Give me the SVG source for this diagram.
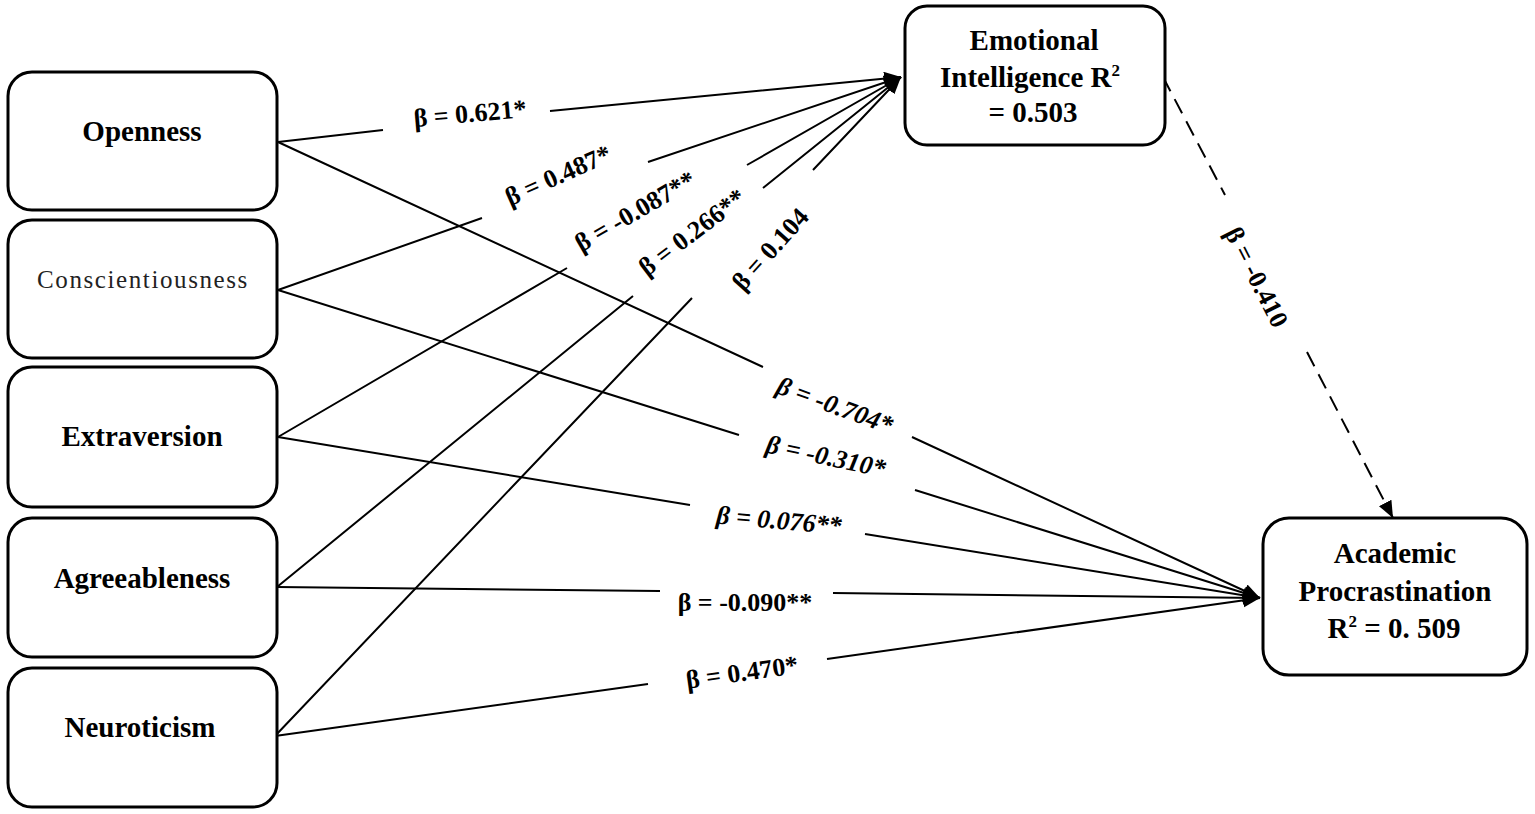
<svg xmlns="http://www.w3.org/2000/svg" width="1535" height="814" viewBox="0 0 1535 814">
<defs>
<marker id="arr" markerUnits="userSpaceOnUse" markerWidth="20" markerHeight="16" refX="17" refY="7" orient="auto">
<path d="M0,0 L17,7 L0,14 z" fill="#000"/>
</marker>
<style>
.box{fill:#fff;stroke:#000;stroke-width:3}
.nt{font-family:"Liberation Serif","Times New Roman",serif;font-weight:bold;font-size:29px;fill:#000;text-anchor:middle}
.nr{font-family:"Liberation Serif","Times New Roman",serif;font-weight:normal;font-size:25px;letter-spacing:1.6px;fill:#222;text-anchor:middle}
.lb{font-family:"Liberation Serif","Times New Roman",serif;font-weight:bold;font-size:26px;fill:#000;text-anchor:middle}
.it{font-style:italic}
.ln{fill:none;stroke:#000;stroke-width:2;marker-end:url(#arr)}
.dash{stroke-dasharray:16 9}
</style>
</defs>
<rect width="1535" height="814" fill="#fff"/>

<g id="connectors">
<path class="ln" d="M278,142 L383,130 M550,111 L901,77"/>
<path class="ln" d="M278,290 L482,218 M648,162 L901,77"/>
<path class="ln" d="M278,437 L567,268 M747,165 L901,77"/>
<path class="ln" d="M277,587 L633,296 M763,188 L901,77"/>
<path class="ln" d="M275,736 L692,298 M813,170 L901,77"/>
<path class="ln" d="M278,142 L763,367 M912,437 L1260,598"/>
<path class="ln" d="M278,290 L739,435 M915,490 L1260,598"/>
<path class="ln" d="M278,437 L690,505 M865,534 L1260,598"/>
<path class="ln" d="M277,587 L660,591 M833,593 L1260,598"/>
<path class="ln" d="M275,736 L648,684 M827,659 L1260,598"/>
<path class="ln dash" d="M1163,77 L1225,195 M1307,352 L1393,518"/>
</g>

<g id="labels">
<text class="lb" transform="translate(470,113) rotate(-5)" y="9">β = 0.621*</text>
<text class="lb" transform="translate(558,175) rotate(-24)" y="9">β = 0.487*</text>
<text class="lb" transform="translate(635,211) rotate(-30)" y="9">β = -0.087**</text>
<text class="lb" transform="translate(692,232) rotate(-37)" y="9">β = 0.266**</text>
<text class="lb" transform="translate(770,249) rotate(-48)" y="9">β = 0.104</text>
<text class="lb it" transform="translate(835,405) rotate(20)" y="9">β = -0.704*</text>
<text class="lb it" transform="translate(826,456) rotate(12)" y="9">β = -0.310*</text>
<text class="lb it" transform="translate(779,520) rotate(5)" y="9">β = 0.076**</text>
<text class="lb" transform="translate(745,602) rotate(0)" y="9">β = -0.090**</text>
<text class="lb" transform="translate(742,672) rotate(-8)" y="9">β = 0.470*</text>
<text class="lb" transform="translate(1257,277) rotate(63)" y="9">β = -0.410</text>
</g>

<g id="openness">
<rect class="box" x="8" y="72" width="269" height="138" rx="24"/>
<text class="nt" x="142" y="141">Openness</text>
</g>
<g id="conscientiousness">
<rect class="box" x="8" y="220" width="269" height="138" rx="24"/>
<text class="nr" x="143" y="288">Conscientiousness</text>
</g>
<g id="extraversion">
<rect class="box" x="8" y="367" width="269" height="140" rx="24"/>
<text class="nt" x="142" y="446">Extraversion</text>
</g>
<g id="agreeableness">
<rect class="box" x="8" y="518" width="269" height="139" rx="24"/>
<text class="nt" x="142" y="588">Agreeableness</text>
</g>
<g id="neuroticism">
<rect class="box" x="8" y="668" width="269" height="139" rx="24"/>
<text class="nt" x="140" y="737">Neuroticism</text>
</g>
<g id="emotional-intelligence">
<rect class="box" x="905" y="6" width="260" height="139" rx="22"/>
<text class="nt" x="1034" y="50">Emotional</text>
<text class="nt" x="1030" y="87">Intelligence R<tspan font-size="17" dy="-11">2</tspan></text>
<text class="nt" x="1033" y="122">= 0.503</text>
</g>
<g id="academic-procrastination">
<rect class="box" x="1263" y="518" width="264" height="157" rx="26"/>
<text class="nt" x="1395" y="563">Academic</text>
<text class="nt" x="1395" y="601">Procrastination</text>
<text class="nt" x="1394" y="638">R<tspan font-size="17" dy="-11">2</tspan><tspan dy="11"> = 0. 509</tspan></text>
</g>
</svg>
